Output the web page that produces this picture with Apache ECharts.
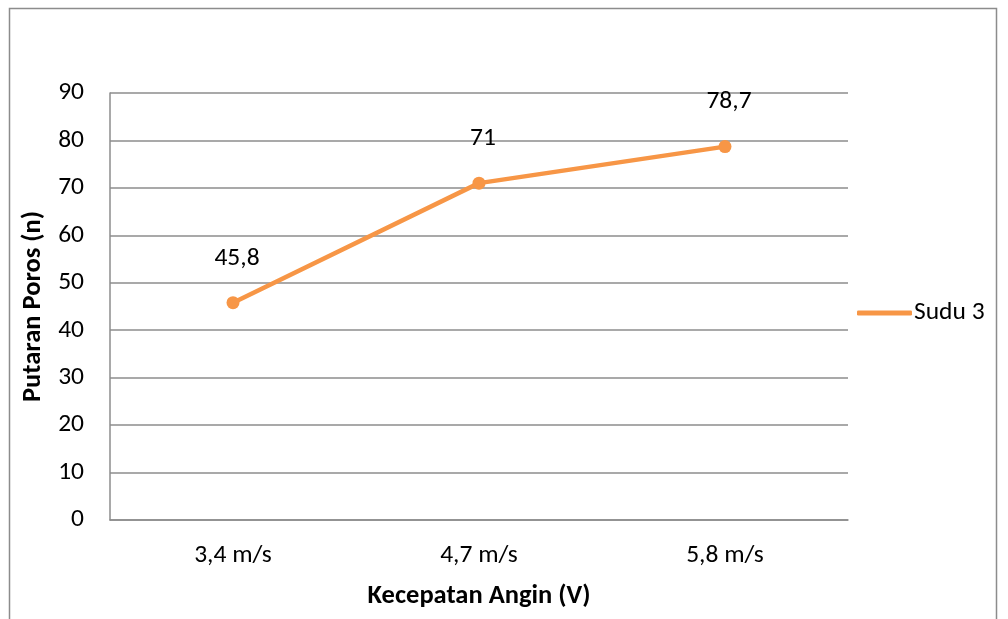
<!DOCTYPE html>
<html>
<head>
<meta charset="utf-8">
<script src="https://cdn.jsdelivr.net/npm/echarts@6/dist/echarts.min.js"></script>
<style>html,body{margin:0;padding:0;background:#fff}#c{width:1008px;height:619px}</style>
</head>
<body>
<div id="c"></div>
<script>
const categories = ['3,4 m/s', '4,7 m/s', '5,8 m/s'];
const sudu3 = [45.8, 71, 78.7];
const seriesName = 'Sudu 3';
const yTitle = 'Putaran Poros (n)';
const xTitle = 'Kecepatan Angin (V)';

const font = 'Carlito, "Open Sans", "Liberation Sans", sans-serif';
const chart = echarts.init(document.getElementById('c'));
chart.setOption({
  animation: false,
  backgroundColor: '#fff',
  graphic: [{
    type: 'rect', shape: { x: 9.5, y: 8.5, width: 987, height: 640 },
    style: { fill: 'none', stroke: '#8c8c8c', lineWidth: 1.5 }, silent: true
  }],
  grid: { left: 110, right: 160, top: 93, bottom: 99 },
  legend: {
    data: [{ name: seriesName, icon: 'roundRect' }],
    left: 852, top: 295, itemWidth: 55, itemHeight: 5, itemGap: 0,
    textStyle: { fontFamily: font, fontSize: 25.5, color: '#000', padding: [0, 0, 0, -3] }
  },
  xAxis: {
    type: 'category', data: categories, boundaryGap: true,
    name: xTitle, nameLocation: 'middle', nameGap: 63,
    nameTextStyle: { fontFamily: font, fontSize: 26.5, fontWeight: 'bold', color: '#000' },
    axisLine: { lineStyle: { color: '#8c8c8c', width: 1.5 } },
    axisTick: { show: false },
    axisLabel: { fontFamily: font, fontSize: 25.5, color: '#000', margin: 23 }
  },
  yAxis: {
    type: 'value', min: 0, max: 90, interval: 10,
    name: yTitle, nameLocation: 'middle', nameGap: 58, nameRotate: 90,
    nameTextStyle: { fontFamily: font, fontSize: 26.5, fontWeight: 'bold', color: '#000' },
    axisLine: { show: true, lineStyle: { color: '#8c8c8c', width: 1.5 } },
    axisTick: { show: false },
    splitLine: { lineStyle: { color: '#8c8c8c', width: 1.5 } },
    axisLabel: { fontFamily: font, fontSize: 25.5, color: '#000', margin: 26 }
  },
  series: [{
    name: seriesName, type: 'line', data: sudu3,
    symbol: 'circle', symbolSize: 13,
    lineStyle: { color: '#F79646', width: 4.5 },
    itemStyle: { color: '#F79646' },
    label: {
      show: true, position: 'top', distance: 25, offset: [4, 0],
      fontFamily: font, fontSize: 25.5, color: '#000',
      formatter: p => String(p.value).replace('.', ',')
    }
  }]
});
</script>
</body>
</html>
